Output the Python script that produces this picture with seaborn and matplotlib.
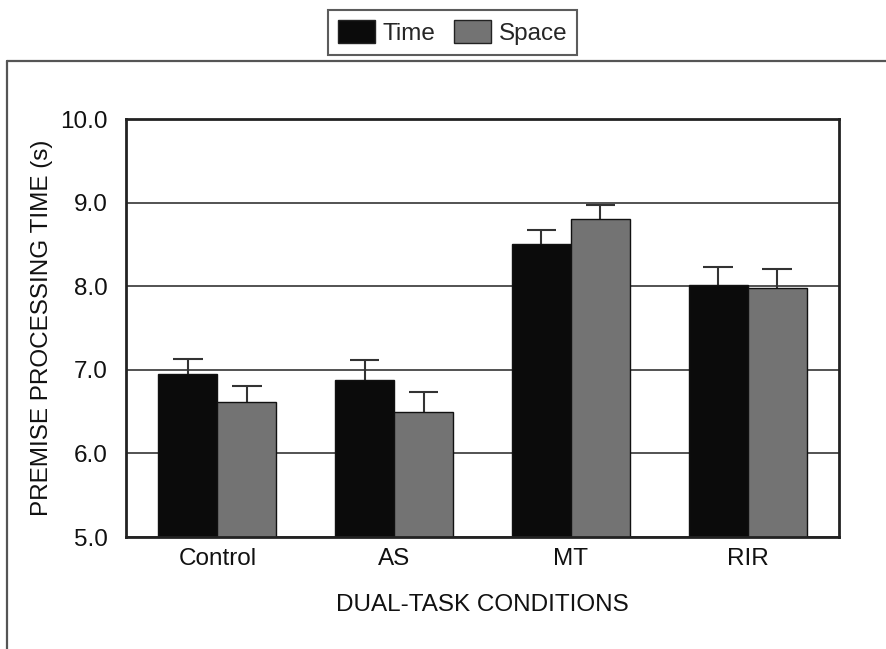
import matplotlib
matplotlib.use("Agg")
import matplotlib.pyplot as plt
import seaborn as sns
import pandas as pd
import numpy as np
from matplotlib.patches import Patch
from matplotlib.lines import Line2D

conditions = ["Control", "AS", "MT", "RIR"]
tasks = ["Time", "Space"]
time_mean = [6.95, 6.88, 8.51, 8.02]
space_mean = [6.61, 6.49, 8.80, 7.98]
time_upper = [7.13, 7.12, 8.67, 8.23]
space_upper = [6.81, 6.74, 8.97, 8.21]
yticks = [5.0, 6.0, 7.0, 8.0, 9.0, 10.0]

df = pd.DataFrame({
    "condition": conditions * 2,
    "task": ["Time"] * 4 + ["Space"] * 4,
    "value": time_mean + space_mean,
})
upper = {"Time": time_upper, "Space": space_upper}
colors = {"Time": "#0b0b0b", "Space": "#737373"}

sns.set_style("white")
plt.rcParams["font.family"] = ["Liberation Sans", "DejaVu Sans"]

fig = plt.figure(figsize=(8.87, 6.49), dpi=100)
ax = fig.add_axes([126 / 887, 1 - 537 / 649, 713 / 887, 418 / 649])

sns.barplot(data=df, x="condition", y="value", hue="task", order=conditions,
            hue_order=tasks, palette=colors, width=0.668, edgecolor="#111111",
            linewidth=1, errorbar=None, legend=False, ax=ax, zorder=2)

# upper error bars only (stem + cap)
for task, cont in zip(tasks, ax.containers):
    for b, up in zip(cont, upper[task]):
        xc = b.get_x() + b.get_width() / 2
        hw = b.get_width() / 4
        ax.vlines(xc, b.get_height(), up, color="#333333", lw=1.5, zorder=1.5)
        ax.hlines(up, xc - hw, xc + hw, color="#333333", lw=1.5, zorder=1.5)

ax.set_ylim(5, 10)
ax.set_yticks(yticks)
ax.set_yticklabels([f"{t:.1f}" for t in yticks])
ax.yaxis.grid(True, color="#444444", linewidth=1.3)
ax.set_axisbelow(True)
ax.tick_params(axis="both", length=0, labelsize=17.5, colors="#111111")
ax.tick_params(axis="y", pad=13)
ax.tick_params(axis="x", pad=8)
for s in ax.spines.values():
    s.set_color("#222222")
    s.set_linewidth(2)
ax.set_xlabel("DUAL-TASK CONDITIONS", fontsize=17.5, labelpad=17.5, color="#111111")
ax.set_ylabel("PREMISE PROCESSING TIME (s)", fontsize=17.5, labelpad=5.5, color="#111111")

# outer frame lines
fig.add_artist(Line2D([7 / 887, 1.0], [1 - 61 / 649, 1 - 61 / 649],
                      transform=fig.transFigure, color="#555555", lw=1.6))
fig.add_artist(Line2D([7 / 887, 7 / 887], [0.0, 1 - 61 / 649],
                      transform=fig.transFigure, color="#555555", lw=1.6))

handles = [Patch(facecolor=colors[t], edgecolor="#222222", linewidth=1) for t in tasks]
leg = fig.legend(handles, tasks, loc="center", bbox_to_anchor=(452.5 / 887, 1 - 32.5 / 649),
                 ncol=2, frameon=True, fancybox=False, fontsize=17.5,
                 handlelength=1.52, handleheight=1.03, handletextpad=0.3,
                 columnspacing=0.8, borderpad=0.42)
leg.get_frame().set_edgecolor("#333333")
leg.get_frame().set_linewidth(1.5)

fig.savefig("out.png", dpi=100)
